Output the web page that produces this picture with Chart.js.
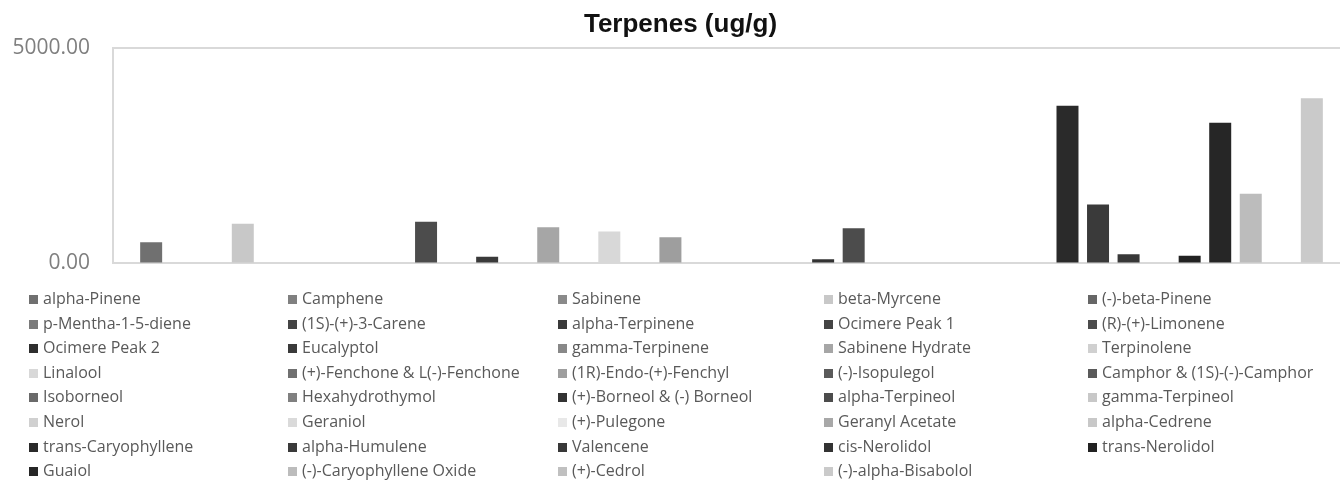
<!DOCTYPE html>
<html>
<head>
<meta charset="utf-8">
<title>Terpenes (ug/g)</title>
<script src="https://cdn.jsdelivr.net/npm/chart.js@4.4.1/dist/chart.umd.min.js"></script>
<style>
  html, body { margin: 0; padding: 0; background: #fff; overflow: hidden; }
  #wrap { position: absolute; left: 0; top: 0; width: 1352px; height: 299px; }
  #legend { position: absolute; left: 0; top: 0; width: 1340px; height: 487px; pointer-events: none;
            font-family: "Open Sans", sans-serif; font-size: 16px; color: #595959; }
  .item { position: absolute; white-space: nowrap; line-height: 20px; }
  .item i { display: inline-block; width: 9px; height: 9px; margin-right: 5px; vertical-align: 0px; }
</style>
</head>
<body>
<div id="wrap"><canvas id="terpeneChart"></canvas></div>
<div id="legend"></div>
<script>
// series names (legend order = bar order)
const terpenes = [
  'alpha-Pinene', 'Camphene', 'Sabinene', 'beta-Myrcene', '(-)-beta-Pinene',
  'p-Mentha-1-5-diene', '(1S)-(+)-3-Carene', 'alpha-Terpinene', 'Ocimere Peak 1', '(R)-(+)-Limonene',
  'Ocimere Peak 2', 'Eucalyptol', 'gamma-Terpinene', 'Sabinene Hydrate', 'Terpinolene',
  'Linalool', '(+)-Fenchone & L(-)-Fenchone', '(1R)-Endo-(+)-Fenchyl', '(-)-Isopulegol', 'Camphor & (1S)-(-)-Camphor',
  'Isoborneol', 'Hexahydrothymol', '(+)-Borneol & (-) Borneol', 'alpha-Terpineol', 'gamma-Terpineol',
  'Nerol', 'Geraniol', '(+)-Pulegone', 'Geranyl Acetate', 'alpha-Cedrene',
  'trans-Caryophyllene', 'alpha-Humulene', 'Valencene', 'cis-Nerolidol', 'trans-Nerolidol',
  'Guaiol', '(-)-Caryophyllene Oxide', '(+)-Cedrol', '(-)-alpha-Bisabolol'
]

// ug/g
const amounts = [
  490, 0, 0, 920, 0,
  0, 0, 0, 0, 965,
  0, 155, 0, 840, 0,
  740, 0, 605, 0, 0,
  0, 0, 95, 815, 0,
  0, 0, 0, 0, 0,
  3660, 1370, 210, 0, 180,
  3270, 1620, 0, 3840
]

const shades = [
  '#707070', '#808080', '#8a8a8a', '#c8c8c8', '#666666',
  '#7a7a7a', '#444444', '#3a3a3a', '#444444', '#4c4c4c',
  '#2e2e2e', '#3a3a3a', '#888888', '#a6a6a6', '#d0d0d0',
  '#d8d8d8', '#707070', '#9e9e9e', '#5a5a5a', '#5a5a5a',
  '#6a6a6a', '#808080', '#333333', '#4c4c4c', '#c8c8c8',
  '#d0d0d0', '#dadada', '#e8e8e8', '#a8a8a8', '#c8c8c8',
  '#2a2a2a', '#3a3a3a', '#383838', '#333333', '#222222',
  '#262626', '#bcbcbc', '#c0c0c0', '#cacaca'
]

const yTicks = [0, 5000]

const legendCols = [29, 288, 558, 824, 1088]
const legendTop = 288
const legendRow = 24.6

let datasets = terpenes.map((name, i) => ({
    label: name,
    data: [amounts[i]],
    backgroundColor: shades[i],
    borderWidth: 0
}))

let chart = new Chart(document.getElementById('terpeneChart'), {
    type: 'bar',
    data: { labels: [''], datasets: datasets },
    options: {
        responsive: true,
        maintainAspectRatio: false,
        animation: false,
        layout: { padding: { left: 11, right: 2, top: 0, bottom: 0 } },
        plugins: {
            legend: { display: false },
            tooltip: { enabled: false },
            title: {
                display: true,
                text: 'Terpenes (ug/g)',
                color: '#111',
                font: { family: '"Liberation Sans", Arial, sans-serif', size: 26, weight: 'bold' },
                padding: { top: 9, bottom: 8 }
            }
        },
        datasets: { bar: { categoryPercentage: 0.963, barPercentage: 0.72 } },
        scales: {
            x: { display: false },
            y: {
                min: yTicks[0],
                max: yTicks[1],
                afterBuildTicks: (scale) => { scale.ticks = yTicks.map(v => ({ value: v })) },
                afterFit: (scale) => { scale.width = 102 },
                ticks: {
                    padding: 23,
                    color: '#7f7f7f',
                    font: { family: '"Open Sans", sans-serif', size: 21 },
                    callback: (v) => Number(v).toFixed(2)
                },
                grid: { color: '#d9d9d9', lineWidth: 2, drawTicks: false },
                border: { display: true, color: '#d9d9d9', width: 2 }
            }
        }
    }
})

// legend laid out in five fixed columns like the original
let legend = document.getElementById('legend')
chart.data.datasets.forEach((ds, i) => {
    let item = document.createElement('div')
    item.className = 'item'
    item.style.left = legendCols[i % 5] + 'px'
    item.style.top = (legendTop + Math.floor(i / 5) * legendRow) + 'px'
    item.innerHTML = `<i style="background:${ds.backgroundColor}"></i>`
    item.appendChild(document.createTextNode(ds.label))
    legend.appendChild(item)
})
</script>
</body>
</html>
